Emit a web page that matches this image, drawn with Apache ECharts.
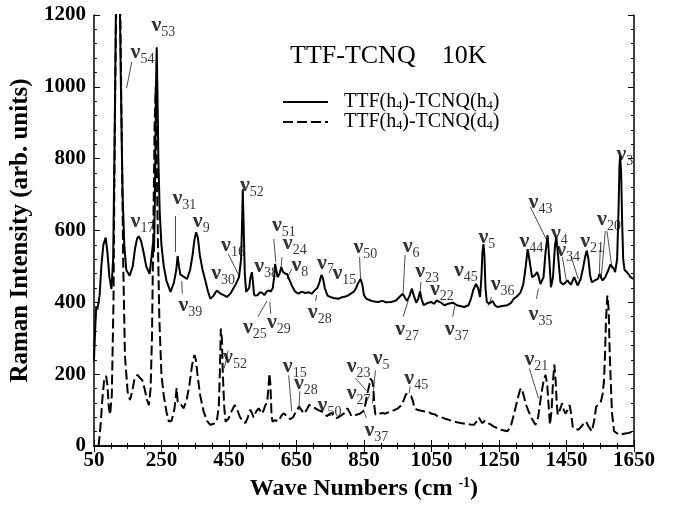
<!DOCTYPE html>
<html>
<head>
<meta charset="utf-8">
<script src="https://cdn.jsdelivr.net/npm/echarts@6/dist/echarts.min.js"></script>
<style>
  html, body { margin: 0; padding: 0; background: #fff; }
  #ramanChart { width: 674px; height: 506px; }
</style>
</head>
<body>
<div id="ramanChart"></div>
<script>
// TTF(h4)-TCNQ(h4), solid curve
const waveH = [50, 54, 57, 60, 63, 67, 72, 78, 85, 90, 96, 102, 107, 112, 116, 121, 126, 130, 135, 140, 146, 156, 165, 172, 178, 183, 190, 197, 205, 215, 220, 225, 228, 231, 234, 236, 238, 241, 245, 250, 257, 265, 277, 287, 294, 298, 302, 306, 311, 318, 326, 335, 342, 348, 353, 358, 364, 372, 380, 388, 395, 404, 414, 424, 434, 444, 455, 460, 470, 480, 486, 489, 491, 494, 497, 501, 506, 510, 514, 518, 521, 524, 526, 535, 542, 548, 555, 562, 568, 574, 580, 584, 587, 590, 595, 600, 605, 610, 616, 622, 628, 636, 646, 656, 666, 676, 686, 695, 705, 712, 718, 722, 725, 729, 734, 742, 750, 760, 774, 785, 795, 803, 812, 820, 826, 831, 835, 840, 845, 850, 857, 870, 880, 892, 905, 915, 931, 945, 955, 965, 972, 978, 985, 992, 998, 1005, 1011, 1016, 1021, 1027, 1038, 1049, 1058, 1065, 1070, 1077, 1088, 1100, 1113, 1125, 1135, 1147, 1160, 1167, 1174, 1182, 1188, 1194, 1198, 1201, 1204, 1207, 1210, 1214, 1221, 1231, 1238, 1245, 1260, 1275, 1285, 1294, 1305, 1314, 1322, 1328, 1335, 1340, 1348, 1356, 1363, 1368, 1373, 1382, 1388, 1394, 1399, 1404, 1410, 1416, 1420, 1425, 1432, 1440, 1447, 1453, 1458, 1463, 1468, 1473, 1478, 1483, 1492, 1500, 1506, 1510, 1515, 1520, 1525, 1535, 1543, 1548, 1552, 1557, 1565, 1574, 1580, 1584, 1589, 1594, 1600, 1604, 1607, 1609, 1612, 1615, 1618, 1622, 1628, 1633, 1640, 1648];
const intensH = [235, 330, 390, 380, 395, 420, 500, 560, 580, 540, 470, 437, 520, 900, 1300, 1400, 1300, 1000, 700, 560, 490, 474, 500, 550, 578, 584, 570, 540, 500, 479, 520, 565, 540, 700, 1000, 1110, 1000, 800, 650, 560, 500, 460, 429, 455, 490, 529, 500, 478, 474, 470, 465, 490, 530, 575, 595, 580, 530, 490, 461, 430, 410, 418, 433, 425, 420, 415, 425, 430, 450, 470, 520, 620, 715, 600, 480, 429, 425, 440, 470, 484, 460, 425, 419, 420, 428, 427, 420, 430, 433, 430, 440, 470, 507, 490, 470, 480, 498, 485, 480, 479, 465, 447, 430, 424, 430, 426, 428, 424, 434, 440, 455, 470, 476, 465, 440, 419, 415, 412, 410, 414, 416, 419, 425, 430, 438, 450, 445, 465, 450, 420, 410, 405, 402, 401, 404, 400, 401, 405, 415, 424, 412, 404, 418, 438, 418, 399, 410, 430, 408, 392, 398, 401, 396, 405, 410, 400, 392, 396, 399, 392, 390, 387, 392, 410, 435, 451, 440, 415, 470, 540, 562, 530, 440, 401, 396, 404, 392, 387, 390, 392, 398, 410, 418, 428, 450, 490, 548, 520, 470, 475, 484, 470, 451, 470, 540, 587, 520, 442, 470, 560, 581, 530, 456, 450, 455, 461, 455, 449, 460, 470, 458, 447, 465, 500, 530, 544, 520, 475, 456, 462, 465, 479, 470, 461, 470, 490, 505, 507, 495, 484, 520, 650, 780, 807, 760, 620, 520, 490, 485, 479, 470, 465];

// TTF(h4)-TCNQ(d4), dashed curve
const waveD = [64, 70, 75, 80, 86, 90, 94, 98, 103, 108, 112, 117, 122, 127, 132, 137, 142, 150, 157, 163, 170, 179, 186, 193, 200, 207, 213, 218, 222, 226, 230, 233, 236, 240, 244, 250, 257, 265, 272, 280, 288, 292, 295, 298, 302, 308, 316, 325, 333, 340, 345, 348, 352, 358, 365, 375, 385, 395, 405, 414, 420, 423, 426, 429, 432, 436, 440, 448, 457, 467, 475, 483, 492, 499, 506, 513, 518, 523, 530, 538, 543, 548, 553, 558, 563, 567, 570, 573, 576, 579, 587, 594, 600, 606, 612, 620, 626, 632, 640, 648, 658, 665, 672, 680, 688, 697, 706, 715, 725, 732, 740, 747, 754, 762, 769, 778, 790, 801, 807, 813, 820, 828, 838, 847, 853, 860, 866, 869, 872, 875, 878, 881, 884, 895, 905, 913, 925, 940, 951, 962, 970, 975, 978, 984, 990, 995, 1000, 1010, 1020, 1030, 1039, 1050, 1060, 1068, 1080, 1090, 1098, 1110, 1125, 1137, 1150, 1165, 1176, 1185, 1191, 1196, 1201, 1208, 1212, 1216, 1225, 1235, 1245, 1255, 1265, 1275, 1285, 1294, 1305, 1312, 1316, 1322, 1330, 1338, 1348, 1358, 1366, 1375, 1382, 1388, 1393, 1398, 1401, 1406, 1410, 1414, 1418, 1421, 1424, 1430, 1437, 1442, 1447, 1453, 1459, 1464, 1469, 1477, 1485, 1495, 1502, 1508, 1515, 1525, 1532, 1538, 1545, 1552, 1557, 1561, 1564, 1567, 1571, 1575, 1578, 1581, 1585, 1591, 1600, 1609, 1620, 1633, 1640, 1648];
const intensD = [0, 60, 130, 180, 195, 170, 110, 87, 140, 400, 900, 1300, 1400, 1300, 900, 500, 250, 150, 128, 150, 185, 198, 190, 184, 160, 130, 114, 160, 300, 600, 900, 1000, 800, 550, 350, 200, 140, 95, 68, 70, 100, 130, 161, 125, 118, 115, 105, 130, 170, 220, 245, 253, 240, 190, 140, 96, 70, 59, 62, 68, 110, 200, 327, 300, 200, 110, 68, 75, 95, 114, 100, 80, 68, 64, 80, 101, 92, 80, 95, 105, 98, 90, 100, 114, 120, 160, 202, 170, 90, 68, 72, 68, 75, 85, 91, 85, 78, 75, 80, 95, 110, 100, 90, 100, 115, 108, 105, 100, 96, 92, 83, 88, 92, 85, 78, 82, 90, 105, 95, 83, 85, 87, 90, 96, 110, 147, 170, 188, 190, 180, 160, 110, 87, 90, 92, 90, 95, 100, 105, 115, 133, 145, 150, 142, 139, 125, 105, 100, 98, 96, 96, 90, 88, 83, 80, 76, 74, 70, 66, 64, 62, 60, 59, 70, 79, 70, 64, 70, 74, 64, 60, 54, 50, 45, 43, 41, 55, 87, 130, 155, 161, 145, 115, 96, 75, 59, 80, 142, 180, 198, 170, 100, 59, 100, 180, 227, 180, 120, 87, 100, 119, 100, 90, 100, 114, 90, 50, 48, 45, 55, 65, 68, 55, 41, 70, 110, 115, 124, 145, 180, 250, 350, 419, 380, 260, 180, 90, 41, 35, 31, 34, 36, 38, 45];

// mode labels: subscript, label centre (x, y in data units)
const modeSub = ['54', '53', '31', '17', '9', '16', '52', '30', '39', '51', '24', '38', '8', '7', '15', '50', '6', '23', '22', '45', '5', '36', '44', '43', '4', '34', '21', '20', '3', '25', '29', '28', '27', '37', '35',
  '52', '15', '28', '50', '23', '5', '27', '37', '45', '21'];
const modeX = [194, 256, 318, 194, 368, 462, 518, 433, 336, 613, 645, 560, 660, 736, 792, 854, 990, 1037, 1081, 1152, 1214, 1261, 1346, 1373, 1429, 1455, 1526, 1576, 1623, 527, 598, 719, 978, 1125, 1373,
  468, 645, 678, 748, 834, 901, 834, 887, 1005, 1361];
const modeY = [1097, 1172, 690, 626, 626, 560, 726, 482, 393, 615, 565, 499, 504, 510, 482, 554, 557, 485, 435, 488, 582, 449, 571, 679, 593, 546, 571, 632, 812, 330, 343, 371, 324, 324, 366,
  247, 222, 175, 114, 222, 244, 147, 44, 188, 241];

// leader lines: [x1, y1, x2, y2]
const leaders = [
  [162, 1069, 147, 997], [292, 640, 292, 540], [448, 535, 480, 474], [312, 424, 310, 460],
  [583, 576, 589, 512], [607, 526, 604, 493], [636, 493, 622, 465], [536, 360, 563, 404],
  [574, 368, 571, 402], [707, 404, 710, 421], [837, 526, 840, 465], [972, 532, 966, 427],
  [1019, 457, 1016, 429], [966, 360, 981, 404], [1113, 360, 1119, 390], [1229, 415, 1217, 390],
  [1361, 410, 1367, 438], [1343, 665, 1390, 576], [1438, 526, 1450, 457], [1464, 526, 1485, 465],
  [1550, 548, 1547, 471], [1565, 598, 1553, 471], [1570, 598, 1585, 493],
  [448, 266, 436, 216], [627, 197, 636, 97], [660, 152, 657, 100], [825, 188, 857, 155],
  [884, 211, 875, 119], [857, 78, 848, 102], [987, 166, 984, 147], [1340, 216, 1367, 133]
];

const serif = 'Liberation Serif';
const chart = echarts.init(document.getElementById('ramanChart'), null, { renderer: 'canvas' });

const zip = (xs, ys) => xs.map((x, i) => [x, ys[i]]);

const axisCommon = {
  min: 50, max: 1650, interval: 200,
  axisLine: { show: true, lineStyle: { color: '#000', width: 1.5 } },
  axisTick: { inside: true, length: 6, lineStyle: { color: '#000', width: 1 } },
  minorTick: { show: true, splitNumber: 4, length: 3, lineStyle: { color: '#000', width: 1 } },
  splitLine: { show: false }
};
const yCommon = {
  min: 0, max: 1200, interval: 200,
  axisLine: { show: true, lineStyle: { color: '#000', width: 1.5 } },
  axisTick: { inside: true, length: 6, lineStyle: { color: '#000', width: 1 } },
  minorTick: { show: true, splitNumber: 5, length: 3, lineStyle: { color: '#000', width: 1 } },
  splitLine: { show: false }
};
const tickLabel = { fontFamily: serif, fontSize: 21, fontWeight: 'bold', color: '#000', formatter: v => String(v) };

const option = {
  animation: false,
  backgroundColor: '#fff',
  grid: { left: 91, right: 40, top: 15, bottom: 58 },
  title: {
    text: 'TTF-TCNQ    10K',
    left: 285, top: 38,
    textStyle: { fontFamily: serif, fontSize: 26, fontWeight: 'normal', color: '#000' }
  },
  legend: {
    orient: 'vertical', left: 277, top: 87,
    itemWidth: 45, itemHeight: 2, itemGap: 0,
    itemStyle: { opacity: 0 },
    data: ['h4', 'd4'],
    formatter: name => name === 'h4'
      ? 'TTF(h{s|4})-TCNQ(h{s|4})'
      : 'TTF(h{s|4})-TCNQ(d{s|4})',
    textStyle: {
      fontFamily: serif, fontSize: 20, color: '#000', padding: [0, 0, 0, 11],
      rich: { s: { fontFamily: serif, fontSize: 12, verticalAlign: 'bottom', lineHeight: 20 } }
    }
  },
  xAxis: [
    Object.assign({ type: 'value', position: 'bottom',
      name: 'Wave Numbers (cm {sup|-1})', nameLocation: 'middle', nameGap: 30,
      nameTextStyle: { fontFamily: serif, fontSize: 24, fontWeight: 'bold', color: '#000',
        rich: { sup: { fontFamily: serif, fontSize: 14, fontWeight: 'bold', verticalAlign: 'top', lineHeight: 26 } } },
      axisLabel: Object.assign({ margin: 4 }, tickLabel) }, axisCommon),
    Object.assign({ type: 'value', position: 'top', axisLabel: { show: false } }, axisCommon)
  ],
  yAxis: [
    Object.assign({ type: 'value', position: 'left',
      name: 'Raman Intensity (arb. units)', nameLocation: 'middle', nameGap: 46,
      nameTextStyle: { fontFamily: serif, fontSize: 25, fontWeight: 'bold', color: '#000' },
      axisLabel: Object.assign({ margin: 8 }, tickLabel) }, yCommon),
    Object.assign({ type: 'value', position: 'right', axisLabel: { show: false } }, yCommon)
  ],
  series: [
    {
      name: 'h4', type: 'line', data: zip(waveH, intensH),
      symbol: 'none', clip: true,
      lineStyle: { color: '#000', width: 2 }, itemStyle: { color: '#000' }
    },
    {
      name: 'd4', type: 'line', data: zip(waveD, intensD),
      symbol: 'none', clip: true,
      lineStyle: { color: '#000', width: 2, type: [10, 4] }, itemStyle: { color: '#000' }
    },
    {
      name: 'modes', type: 'scatter', silent: true, symbolSize: 0,
      data: modeSub.map((s, i) => [modeX[i], modeY[i]]),
      label: {
        show: true, position: 'inside', color: '#000',
        formatter: p => '{n|ν}{s|' + modeSub[p.dataIndex] + '}',
        rich: {
          n: { fontFamily: serif, fontSize: 22, fontWeight: 'bold', lineHeight: 28, color: '#000' },
          s: { fontFamily: serif, fontSize: 14, lineHeight: 14, verticalAlign: 'bottom', color: '#000' }
        }
      },
      markLine: {
        silent: true, symbol: ['none', 'none'], label: { show: false },
        lineStyle: { color: '#000', width: 0.7, type: 'solid' },
        data: leaders.map(l => [{ coord: [l[0], l[1]] }, { coord: [l[2], l[3]] }])
      }
    }
  ]
};

chart.setOption(option);
</script>
</body>
</html>
